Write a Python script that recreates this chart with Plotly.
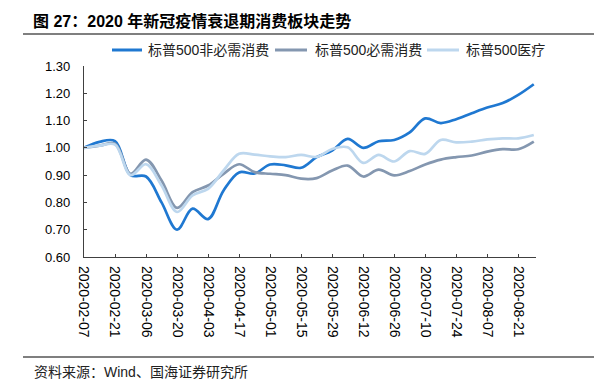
import plotly.graph_objects as go

dates = ["2020-02-07", "2020-02-14", "2020-02-21", "2020-02-28", "2020-03-06",
         "2020-03-13", "2020-03-20", "2020-03-27", "2020-04-03", "2020-04-10",
         "2020-04-17", "2020-04-24", "2020-05-01", "2020-05-08", "2020-05-15",
         "2020-05-22", "2020-05-29", "2020-06-05", "2020-06-12", "2020-06-19",
         "2020-06-26", "2020-07-03", "2020-07-10", "2020-07-17", "2020-07-24",
         "2020-07-31", "2020-08-07", "2020-08-14", "2020-08-21", "2020-08-28"]

discretionary = [1.000, 1.022, 1.025, 0.900, 0.895, 0.800, 0.700, 0.777, 0.739, 0.844,
                 0.910, 0.906, 0.939, 0.936, 0.927, 0.966, 0.990, 1.033, 1.000, 1.024,
                 1.029, 1.057, 1.108, 1.091, 1.105, 1.127, 1.148, 1.164, 1.194, 1.233]
staples = [1.000, 1.008, 1.015, 0.905, 0.957, 0.880, 0.780, 0.838, 0.862, 0.905,
           0.940, 0.911, 0.905, 0.900, 0.887, 0.889, 0.917, 0.935, 0.895, 0.920,
           0.899, 0.915, 0.939, 0.957, 0.966, 0.972, 0.986, 0.995, 0.995, 1.023]
healthcare = [1.000, 1.008, 1.012, 0.900, 0.940, 0.862, 0.765, 0.826, 0.850, 0.917,
              0.978, 0.975, 0.969, 0.966, 0.974, 0.967, 0.996, 1.002, 0.945, 0.974,
              0.950, 0.988, 0.978, 1.029, 1.020, 1.023, 1.031, 1.035, 1.035, 1.047]

series_names = ["标普500非必需消费", "标普500必需消费", "标普500医疗"]
colors = ["#1F78D1", "#8497B0", "#BDD7EE"]

title_text = "图 27：2020 年新冠疫情衰退期消费板块走势"
source_text = "资料来源：Wind、国海证券研究所"

FONT = "Liberation Sans, Arial, Noto Sans CJK SC, sans-serif"

# plot area in pixels
L, R, T, B = 84, 536, 66, 257
W, H = R - L, B - T


def px(x):
    return (x - L) / W


def py(y):
    return (B - y) / H


fig = go.Figure()
for name, vals, col in zip(series_names, [discretionary, staples, healthcare], colors):
    fig.add_trace(go.Scatter(x=dates, y=vals, name=name, mode="lines",
                             line=dict(color=col, width=2.7, shape="spline", smoothing=1)))

fig.update_layout(
    width=594, height=391,
    margin=dict(l=L, r=594 - R, t=T, b=391 - B),
    paper_bgcolor="white", plot_bgcolor="white",
    font=dict(family=FONT, size=13, color="#000000"),
    showlegend=False,
    xaxis=dict(type="date", range=["2020-02-07", "2020-08-29"],
               tick0="2020-02-07", dtick=14 * 86400000, tickformat="%Y-%m-%d",
               tickangle=90, ticks="inside", ticklen=3, tickcolor="#404040",
               ticklabelstandoff=5,
               showline=True, linecolor="#404040", linewidth=1.3,
               showgrid=False, zeroline=False,
               tickfont=dict(size=14, color="#000000")),
    yaxis=dict(range=[0.6, 1.3], dtick=0.1, tickformat=".2f",
               ticks="inside", ticklen=3, tickcolor="#404040",
               ticklabelstandoff=10,
               showline=True, linecolor="#404040", linewidth=1.3,
               showgrid=False, zeroline=False,
               tickfont=dict(size=13, color="#000000")),
)

# legend (manual, to match the reference spacing)
legend_line_x = [(112, 142), (275, 307), (427, 459)]
legend_text_x = [146, 313, 464]
legend_y = 50
for (x0, x1), tx, name, col in zip(legend_line_x, legend_text_x, series_names, colors):
    fig.add_shape(type="line", xref="paper", yref="paper", x0=px(x0), x1=px(x1),
                  y0=py(legend_y), y1=py(legend_y), line=dict(color=col, width=3))
    fig.add_annotation(text=name, xref="paper", yref="paper", x=px(tx), y=py(legend_y),
                       xanchor="left", yanchor="middle", showarrow=False,
                       font=dict(size=14, color="#222222", family=FONT))

fig.add_annotation(text="<b>" + title_text + "</b>", xref="paper", yref="paper",
                   x=px(31), y=py(21), xanchor="left", yanchor="middle", showarrow=False,
                   font=dict(size=16, color="#000000", family=FONT))
fig.add_shape(type="line", xref="paper", yref="paper", x0=px(23), x1=px(594),
              y0=py(34), y1=py(34), line=dict(color="#555555", width=1.5))
fig.add_shape(type="line", xref="paper", yref="paper", x0=px(23), x1=px(594),
              y0=py(357), y1=py(357), line=dict(color="#555555", width=1.5))
fig.add_annotation(text=source_text, xref="paper", yref="paper",
                   x=px(32), y=py(372), xanchor="left", yanchor="middle", showarrow=False,
                   font=dict(size=14, color="#222222", family=FONT))

fig.write_html("out.html", config={"displayModeBar": False},
               post_script="document.body.style.margin='0';")
